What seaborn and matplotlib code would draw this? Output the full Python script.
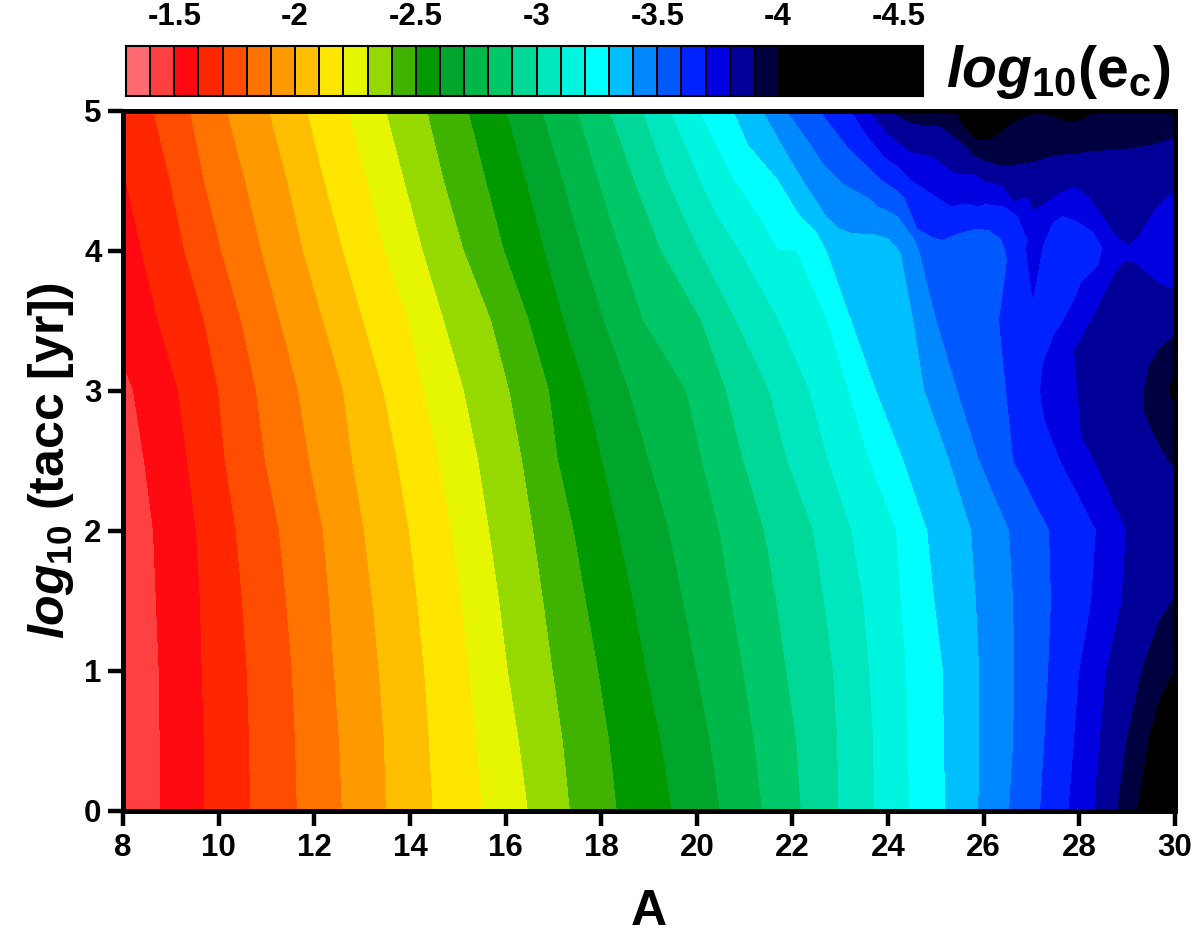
import numpy as np
import pandas as pd
import seaborn as sns
import matplotlib.pyplot as plt
from matplotlib.colors import ListedColormap, BoundaryNorm

nan = np.nan

# colour steps of log10(ec), one per 0.1 from -1.3 down to -4.6
band_colors = ["#ff6b70", "#ff4040", "#ff0a10", "#ff2600", "#ff4d00", "#ff7300", "#ff9900",
               "#ffbf00", "#ffe600", "#e6f500", "#96d900", "#40b300", "#009900", "#00a62b",
               "#00b84a", "#00c868", "#00d898", "#00e6bf", "#00f5e0", "#00ffff", "#00bfff",
               "#0089ff", "#0059ff", "#0022ff", "#0000e0", "#000099", "#000040",
               "#000000", "#000000", "#000000", "#000000", "#000000", "#000000"]
level_edges = [-4.6, -4.5, -4.4, -4.3, -4.2, -4.1, -4.0, -3.9, -3.8, -3.7, -3.6, -3.5, -3.4, -3.3,
               -3.2, -3.1, -3.0, -2.9, -2.8, -2.7, -2.6, -2.5, -2.4, -2.3, -2.2, -2.1, -2.0,
               -1.9, -1.8, -1.7, -1.6, -1.5, -1.4, -1.3]
bar_ticks = [-1.5, -2, -2.5, -3, -3.5, -4, -4.5]
bar_labels = ["-1.5", "-2", "-2.5", "-3", "-3.5", "-4", "-4.5"]

# contours crossed along each row of log10(tacc)
row_levels = [-1.5, -1.6, -1.7, -1.8, -1.9, -2.0, -2.1, -2.2, -2.3, -2.4, -2.5, -2.6, -2.7,
              -2.8, -2.9, -3.0, -3.1, -3.2, -3.3, -3.4, -3.5, -3.6, -3.7, -3.8, -3.9, -4.0]
a_t0 = [8.75, 9.67, 10.64, 11.62, 12.56, 13.48, 14.46, 15.49, 16.45, 17.33, 18.31, 19.46, 20.47,
        21.35, 22.16, 22.94, 23.69, 24.42, 25.18, 25.87, 26.51, 27.16, 27.75, 28.29, 28.77, 29.19]
a_t05 = [8.75, 9.67, 10.62, 11.58, 12.50, 13.44, 14.38, 15.36, 16.26, 17.18, 18.15, 19.23, 20.26,
         21.18, 22.06, 22.92, 23.67, 24.40, 25.15, 25.89, 26.60, 27.25, 27.87, 28.40, 28.96, 29.42]
a_t1 = [8.73, 9.63, 10.57, 11.51, 12.39, 13.33, 14.28, 15.22, 16.03, 16.97, 17.92, 18.92, 19.97,
        20.95, 21.85, 22.83, 23.59, 24.36, 25.13, 25.89, 26.62, 27.33, 27.98, 28.54, 29.28, 29.95]
a_t15 = [8.67, 9.59, 10.47, 11.39, 12.29, 13.19, 14.13, 15.05, 15.85, 16.77, 17.66, 18.65, 19.69,
         20.70, 21.64, 22.64, 23.46, 24.25, 24.95, 25.82, 26.60, 27.39, 28.23, 28.86, nan, nan]
a_t2 = [8.61, 9.51, 10.34, 11.24, 12.16, 13.02, 13.96, 14.84, 15.64, 16.56, 17.41, 18.33, 19.40,
        20.45, 21.39, 22.41, 23.21, 24.15, 24.80, 25.72, 26.51, 27.35, 28.33, 28.96, nan, nan]
a_t25 = [8.42, 9.32, 10.11, 10.95, 11.87, 12.77, 13.71, 14.59, 15.41, 16.33, 17.08, 18.00, 18.98,
         20.09, 20.95, 21.87, 22.73, 23.59, 24.30, 25.26, 25.89, 26.60, 27.58, 28.29, 29.84, nan]
a_t3 = [8.19, 9.13, 9.97, 10.76, 11.64, 12.58, 13.42, 14.26, 15.11, 16.06, 16.89, 17.66, 18.56,
        19.76, 20.59, 21.49, 22.33, 23.15, 23.73, 24.74, 25.43, 25.99, 27.16, 27.66, 29.32, 29.86]
a_t35 = [nan, 8.71, 9.67, 10.45, 11.26, 12.16, 13.00, 13.94, 14.69, 15.68, 16.47, 17.20, 18.04,
         18.86, 20.07, 20.80, 21.70, 22.71, 23.21, 24.51, 24.99, 26.30, 27.64, 28.21, nan, nan]
a_t4 = [nan, 8.36, 9.26, 10.03, 10.87, 11.74, 12.58, 13.44, 14.25, 15.11, 15.95, 16.79, 17.58,
        18.38, 19.23, 20.03, 20.87, 22.06, 22.69, 24.21, 24.63, 26.43, 26.87, nan, nan, nan]
a_t45 = [nan, 8.04, 8.96, 9.67, 10.53, 11.41, 12.18, 13.08, 13.86, 14.69, 15.57, 16.41, 17.18,
         17.92, 18.67, 19.36, 20.05, 20.76, 21.68, 22.20, 22.96, 23.84, 24.46, 25.97, nan, nan]
a_t5 = [nan, nan, 8.61, 9.38, 10.15, 11.03, 11.83, 12.69, 13.48, 14.34, 15.20, 15.99, 16.74,
        17.48, 18.15, 18.84, 19.42, 20.03, 20.74, 21.35, 21.85, 22.54, 23.19, 23.58, 24.00, 25.36]
rows_t = [0, 0.5, 1, 1.5, 2, 2.5, 3, 3.5, 4, 4.5, 5]
rows_a = [a_t0, a_t05, a_t1, a_t15, a_t2, a_t25, a_t3, a_t35, a_t4, a_t45, a_t5]

# values along the left and right edges of the plot
edge_t = [0, 1, 2, 2.5, 3, 3.5, 4, 4.5, 5]
left_z = [-1.42, -1.42, -1.44, -1.46, -1.48, -1.54, -1.565, -1.605, -1.65]
right_t = [0, 1.01, 1.52, 2, 2.43, 2.90, 3.0, 3.13, 3.41, 3.73, 4.0, 4.40, 4.80, 5]
right_z = [-4.18, -4.0, -3.9, -3.85, -3.9, -4.0, -4.02, -4.0, -3.9, -3.8, -3.75, -3.8, -3.9, -3.96]

# the bent part at the upper right: (A, log10 tacc) along single contours
c34 = [(22.69, 4.24), (22.94, 4.16), (23.21, 4.12), (23.73, 4.11), (24.00, 4.08), (24.25, 3.97)]
c33 = [(22.48, 4.13)]
c35 = [(23.06, 4.47), (23.63, 4.36), (24.19, 4.24), (24.53, 4.08)]
c36 = [(23.17, 4.72), (24.60, 4.15), (24.92, 4.09), (25.13, 4.07), (25.51, 4.12), (25.87, 4.15),
       (26.10, 4.14), (26.35, 4.08), (26.47, 3.93), (26.08, 2.90)]
c37 = [(23.56, 4.81), (24.19, 4.60), (24.82, 4.42), (25.30, 4.31), (25.87, 4.31), (26.41, 4.31),
       (26.70, 4.24), (26.89, 4.08), (27.02, 3.63), (27.25, 4.03), (27.46, 4.20), (27.66, 4.24),
       (27.96, 4.20), (28.27, 4.13), (28.46, 4.02), (28.38, 3.90), (27.87, 3.65), (27.46, 3.41),
       (27.22, 3.20), (27.25, 2.79)]
c38 = [(24.19, 4.77), (24.94, 4.66), (25.78, 4.54), (26.62, 4.34), (27.02, 4.28), (27.33, 4.34),
       (27.60, 4.41), (27.91, 4.45), (28.19, 4.38), (28.75, 4.10), (29.02, 4.03), (29.28, 4.11),
       (29.55, 4.27), (29.84, 4.38), (29.69, 3.77), (29.13, 3.93), (28.89, 3.92), (28.65, 3.80),
       (28.29, 3.55), (27.87, 3.29), (27.70, 2.85), (28.02, 2.67)]
c39 = [(24.21, 4.91), (24.46, 4.90), (25.09, 4.88), (25.51, 4.77), (26.08, 4.63), (26.35, 4.60),
       (26.70, 4.61), (27.46, 4.67), (28.16, 4.70), (28.99, 4.72), (29.55, 4.75), (29.65, 3.30),
       (29.42, 3.17), (29.34, 2.84), (29.55, 2.67), (29.96, 1.53), (29.65, 1.36), (29.42, 1.15)]
c40 = [(25.57, 4.88), (25.78, 4.80), (25.99, 4.78), (26.27, 4.81), (26.62, 4.91), (27.04, 4.97),
       (27.29, 4.97), (27.66, 4.92), (27.91, 4.91), (28.16, 4.95), (28.33, 4.98), (29.85, 3.03),
       (29.85, 2.98), (29.65, 0.79), (29.28, 0.20)]
bent_levels = [-3.3, -3.4, -3.5, -3.6, -3.7, -3.8, -3.9, -4.0]
bent_lines = [c33, c34, c35, c36, c37, c38, c39, c40]

# single readings inside the lobes and along the top edge
inside_a = [27.05, 27.03, 27.9, 25.5, 26.0, 26.0, 27.0, 27.0, 29.5, 29.0, 29.7, 29.7, 28.5,
            26.0, 28.0, 29.0, 29.5, 26.0, 27.0, 27.2, 26.8]
inside_t = [4.0, 3.8, 3.9, 4.0, 4.22, 4.42, 4.45, 4.8, 4.0, 3.3, 3.0, 2.0, 3.0,
            5.0, 5.0, 5.0, 5.0, 4.9, 3.45, 3.55, 3.7]
inside_z = [-3.76, -3.72, -3.65, -3.57, -3.65, -3.75, -3.85, -3.95, -3.75, -3.85, -3.96, -3.87,
            -3.85, -4.08, -4.02, -3.97, -3.96, -4.03, -3.65, -3.66, -3.66]

# put every reading into one table
records = []
for t, a_list in zip(rows_t, rows_a):
    for lev, a in zip(row_levels, a_list):
        if not np.isnan(a):
            records.append((a, t, lev))
for t, z in zip(edge_t, left_z):
    records.append((8, t, z))
for t, z in zip(right_t, right_z):
    records.append((30, t, z))
for lev, line in zip(bent_levels, bent_lines):
    for a, t in line:
        records.append((a, t, lev))
for a, t, z in zip(inside_a, inside_t, inside_z):
    records.append((a, t, z))
data = pd.DataFrame(records, columns=["A", "log_tacc", "log_ec"])

sns.set_style("ticks")
plt.rcParams["font.family"] = ["Liberation Sans", "DejaVu Sans"]
plt.rcParams["font.weight"] = "bold"
plt.rcParams["text.color"] = "black"
plt.rcParams["axes.labelcolor"] = "black"
plt.rcParams["xtick.color"] = "black"
plt.rcParams["ytick.color"] = "black"
plt.rcParams["mathtext.fontset"] = "custom"
plt.rcParams["mathtext.it"] = "Liberation Sans:italic:bold"
plt.rcParams["mathtext.bf"] = "Liberation Sans:bold"
plt.rcParams["mathtext.rm"] = "Liberation Sans:bold"

W, H = 1200, 939
fig = plt.figure(figsize=(W / 100, H / 100), dpi=100)
ax = fig.add_axes([123 / W, 1 - 811 / H, 1052 / W, 700.5 / H])
cax = fig.add_axes([126 / W, 1 - 95.5 / H, 797 / W, 50 / H])

# main contour map
cmap = ListedColormap(band_colors[::-1])
norm = BoundaryNorm(level_edges, cmap.N)
filled = ax.tricontourf(data["A"], data["log_tacc"], data["log_ec"], levels=level_edges,
                        cmap=cmap, norm=norm)
filled.set_edgecolor("face")
filled.set_linewidth(0.4)
ax.set_xlim(8, 30)
ax.set_ylim(0, 5)
ax.set_xticks(range(8, 31, 2))
ax.set_yticks(range(0, 6))
ax.tick_params(axis="both", width=3.2, length=10.5, labelsize=22.5, pad=5, color="black")
for s in ax.spines.values():
    s.set_linewidth(3.6)
    s.set_color("black")
    s.set_zorder(5)
for t in ax.xaxis.get_major_ticks() + ax.yaxis.get_major_ticks():
    t.tick1line.set_solid_capstyle("round")
ax.set_xlabel("A", fontsize=36, fontweight="bold", labelpad=19)
ax.set_ylabel(r"$\mathit{log}_{\mathbf{10}}$ (tacc [yr])", fontsize=36, fontweight="bold", labelpad=6)

# colour strip on top, one cell per 0.1
strip_values = pd.DataFrame([[(level_edges[::-1][i] + level_edges[::-1][i + 1]) / 2
                              for i in range(len(band_colors))]])
sns.heatmap(strip_values, ax=cax, cmap=cmap, norm=norm, cbar=False, linewidths=1.2,
            linecolor="black", xticklabels=False, yticklabels=False)
for s in cax.spines.values():
    s.set_visible(True)
    s.set_linewidth(1.5)
    s.set_color("black")
cax.xaxis.tick_top()
cax.set_xticks([(-1.3 - b) * 10 for b in bar_ticks])
cax.set_xticklabels(bar_labels, fontsize=22.5, fontweight="bold")
cax.tick_params(axis="x", length=0, pad=10, top=False)
cax.set_yticks([])
cax.set_xlabel("")
cax.set_ylabel("")
fig.text(1058 / W, 1 - 72 / H, r"$\mathit{log}_{\mathbf{10}}\mathbf{(e_{c})}$", fontsize=41,
         ha="center", va="center")

fig.savefig("out.png", dpi=100)
